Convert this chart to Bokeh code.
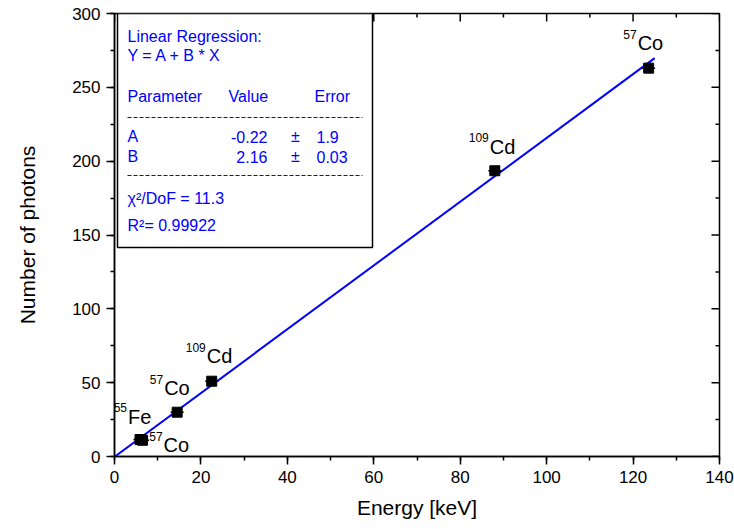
from bokeh.plotting import figure
from bokeh.models import Range1d, SingleIntervalTicker, ColumnDataSource, Label
from bokeh.core.properties import value
from bokeh.embed import file_html
from bokeh.resources import INLINE

# Calibration points: photon energy vs. number of detected photons
energy = [5.9, 6.5, 14.5, 22.5, 88.0, 123.6]          # keV
photons = [11.5, 11.0, 30.0, 51.0, 193.5, 263.0]
energy_err = [1.5, 1.5, 1.5, 1.5, 1.5, 1.5]
mass_number = ["55", "57", "57", "109", "109", "57"]
element = ["Fe", "Co", "Co", "Cd", "Cd", "Co"]

# Linear fit Y = A + B * X
fit_A, fit_A_err = -0.22, 1.9
fit_B, fit_B_err = 2.16, 0.03
chi2_dof = 11.3
r_squared = 0.99922
fit_x_range = [0.0, 125.0]

x_ticks_interval = 20
y_ticks_interval = 50

FONT = "Liberation Sans"
BLUE = "#0000ff"

W, H = 734, 529
LEFT, RIGHT, TOP, BOTTOM = 114, 15, 13, 73
X0, X1, Y0, Y1 = 0, 140, 0, 300
FW = W - LEFT - RIGHT
FH = H - TOP - BOTTOM


def dx(px):
    """canvas x pixel -> data x"""
    return X0 + (px - LEFT) / FW * (X1 - X0)


def dy(py):
    """canvas y pixel -> data y"""
    return Y0 + (TOP + FH - py) / FH * (Y1 - Y0)


p = figure(width=W, height=H, x_range=Range1d(X0, X1), y_range=Range1d(Y0, Y1),
           output_backend="svg", toolbar_location=None,
           min_border_left=LEFT, min_border_right=RIGHT,
           min_border_top=TOP, min_border_bottom=BOTTOM)
p.grid.visible = False
p.outline_line_color = "black"
p.outline_line_width = 1.5
p.background_fill_color = "white"
p.border_fill_color = "white"

p.xaxis.ticker = SingleIntervalTicker(interval=x_ticks_interval, num_minor_ticks=2)
p.yaxis.ticker = SingleIntervalTicker(interval=y_ticks_interval, num_minor_ticks=2)
p.xaxis.axis_label = "Energy [keV]"
p.yaxis.axis_label = "Number of photons"
for ax in (p.xaxis[0], p.yaxis[0]):
    ax.axis_line_width = 1.5
    ax.major_tick_line_width = 1.5
    ax.minor_tick_line_width = 1.5
    ax.major_tick_in = 0
    ax.major_tick_out = 8
    ax.minor_tick_in = 0
    ax.minor_tick_out = 4
    ax.major_label_text_font = FONT
    ax.major_label_text_font_size = "17px"
    ax.major_label_text_color = "black"
    ax.axis_label_text_font = FONT
    ax.axis_label_text_font_size = "21px"
    ax.axis_label_text_font_style = "normal"
    ax.axis_label_text_color = "black"
p.xaxis.major_label_standoff = 6
p.xaxis.axis_label_standoff = 10
p.yaxis.major_label_standoff = 6
p.yaxis.axis_label_standoff = 30

# Mirror ticks along the top and right frame edges, pointing inward
MAJ, MIN = 8, 4
top_major = list(range(X0, X1 + 1, x_ticks_interval))
top_minor = [v + x_ticks_interval / 2 for v in top_major[:-1]]
right_major = list(range(Y0, Y1 + 1, y_ticks_interval))
right_minor = [v + y_ticks_interval / 2 for v in right_major[:-1]]
for ticks, length in ((top_major, MAJ), (top_minor, MIN)):
    p.segment(x0=ticks, y0=[Y1] * len(ticks), x1=ticks,
              y1=[Y1 - length / FH * (Y1 - Y0)] * len(ticks),
              line_color="black", line_width=1.5)
for ticks, length in ((right_major, MAJ), (right_minor, MIN)):
    p.segment(x0=[X1] * len(ticks), y0=ticks,
              x1=[X1 - length / FW * (X1 - X0)] * len(ticks), y1=ticks,
              line_color="black", line_width=1.5)

# Fit line
fit_y = [fit_A + fit_B * x for x in fit_x_range]
p.line(fit_x_range, fit_y, line_color=BLUE, line_width=2)

# Data points with energy error bars
src = ColumnDataSource(dict(
    x=energy, y=photons,
    lo=[e - s for e, s in zip(energy, energy_err)],
    hi=[e + s for e, s in zip(energy, energy_err)],
    mass=mass_number, el=element,
    main_dx=[-12, 21, -13, -5, -5, -11],
    main_dy=[-23, 5, -24, -25, -24, -25],
))
src.data["sup_dx"] = [d - 1 for d in src.data["main_dx"]]
src.data["sup_dy"] = [d - 9 for d in src.data["main_dy"]]

p.segment(x0="lo", y0="y", x1="hi", y1="y", source=src, line_color="black", line_width=1.5)
p.scatter(x="x", y="y", source=src, marker="square", size=10,
          fill_color="black", line_color="black")

# Isotope labels
p.text(x="x", y="y", text="el", source=src, x_offset="main_dx", y_offset="main_dy",
       text_font=value(FONT), text_font_size="20px", text_color="black",
       text_align="left", text_baseline="middle")
p.text(x="x", y="y", text="mass", source=src, x_offset="sup_dx", y_offset="sup_dy",
       text_font=value(FONT), text_font_size="12px", text_color="black",
       text_align="right", text_baseline="middle")

# Fit results box
p.quad(left=dx(117), right=dx(372), top=dy(TOP), bottom=dy(247),
       fill_color="white", line_color="black", line_width=1.5)


def box_text(txt, px, py, align="left", size="16px"):
    p.add_layout(Label(x=dx(px), y=dy(py), text=txt, text_font=FONT, text_font_size=size,
                       text_color=BLUE, text_align=align, text_baseline="middle"))


box_text("Linear Regression:", 127, 36)
box_text("Y = A + B * X", 127, 55)
box_text("Parameter", 127, 96)
box_text("Value", 228, 96)
box_text("Error", 314, 96)
box_text("A", 127, 136)
box_text(f"{fit_A:.2f}", 267, 136, align="right")
box_text("\u00b1", 295, 136, align="center")
box_text(f"{fit_A_err:.1f}", 316, 136)
box_text("B", 127, 156)
box_text(f"{fit_B:.2f}", 267, 156, align="right")
box_text("\u00b1", 295, 156, align="center")
box_text(f"{fit_B_err:.2f}", 316, 156)
box_text(f"\u03c7\u00b2/DoF  = {chi2_dof}", 127, 198)
box_text(f"R\u00b2=  {r_squared}", 127, 225)

for py in (117, 175):
    p.line([dx(127), dx(362)], [dy(py), dy(py)], line_color=BLUE, line_width=1,
           line_dash="4 2")

open("out.html", "w").write(file_html(p, INLINE))
